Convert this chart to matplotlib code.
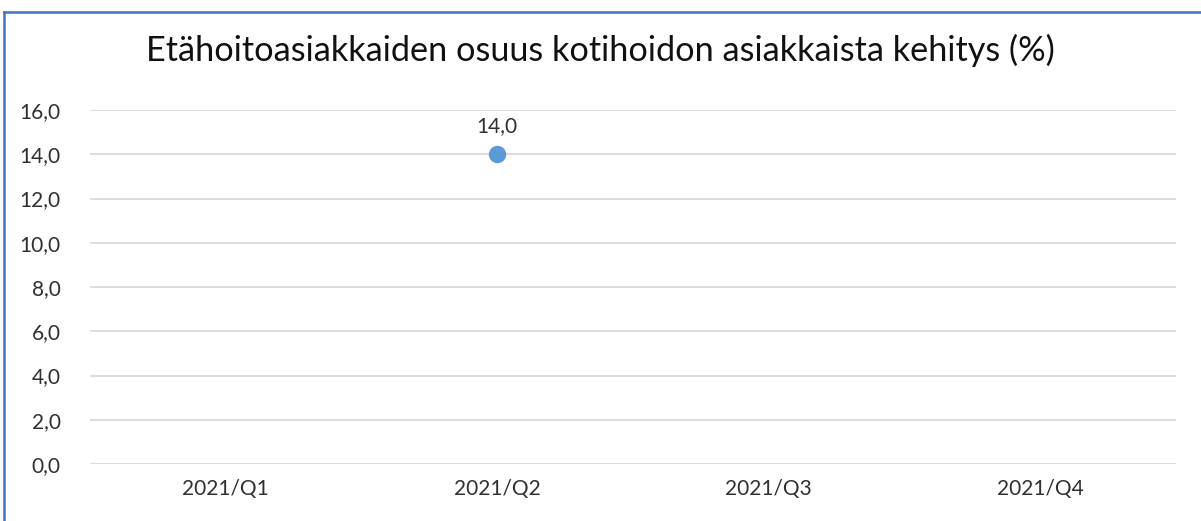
import matplotlib
matplotlib.use("Agg")
import matplotlib.pyplot as plt
from matplotlib.lines import Line2D

categories = ["2021/Q1", "2021/Q2", "2021/Q3", "2021/Q4"]
values = [None, 14.0, None, None]
yticks = [0, 2, 4, 6, 8, 10, 12, 14, 16]
title = "Etähoitoasiakkaiden osuus kotihoidon asiakkaista kehitys (%)"

W, H = 1201, 521
plt.rcParams['font.family'] = ['Lato', 'DejaVu Sans']
fig = plt.figure(figsize=(W / 100, H / 100), dpi=100)
ax = fig.add_axes([90 / W, (H - 464) / H, (1176 - 90) / W, (464 - 110) / H])

x = list(range(len(categories)))
for xi, v in zip(x, values):
    if v is not None:
        ax.plot([xi], [v], 'o', color='#5B9BD5', markersize=11.5, zorder=3)
        ax.annotate(f"{v:.1f}".replace('.', ','), (xi, v), xytext=(0, 13),
                    textcoords='offset points', ha='center', va='bottom',
                    fontsize=15, color='#303030')

ax.set_xlim(-0.5, len(categories) - 0.5)
ax.set_ylim(0, 16)
ax.set_yticks(yticks)
ax.set_yticklabels([f"{t:.1f}".replace('.', ',') for t in yticks])
ax.set_xticks(x)
ax.set_xticklabels(categories)
ax.tick_params(axis='both', length=0, labelsize=15, labelcolor='#303030')
ax.tick_params(axis='y', pad=21)
ax.tick_params(axis='x', pad=11)
for s in ax.spines.values():
    s.set_visible(False)
ax.grid(axis='y', color='#D9D9D9', linewidth=1.3)
ax.set_axisbelow(True)

fig.text(0.5, (H - 50) / H, title, ha='center', va='center', fontsize=24.7,
         color='#111111')

# partial border (top and left) as in reference
fig.add_artist(Line2D([4 / W, 4 / W], [0, (H - 12) / H], color='#4472C4', linewidth=1.8, transform=fig.transFigure))
fig.add_artist(Line2D([4 / W, 1], [(H - 12) / H, (H - 12) / H], color='#4472C4', linewidth=1.8, transform=fig.transFigure))

fig.savefig("out.png", dpi=100)
